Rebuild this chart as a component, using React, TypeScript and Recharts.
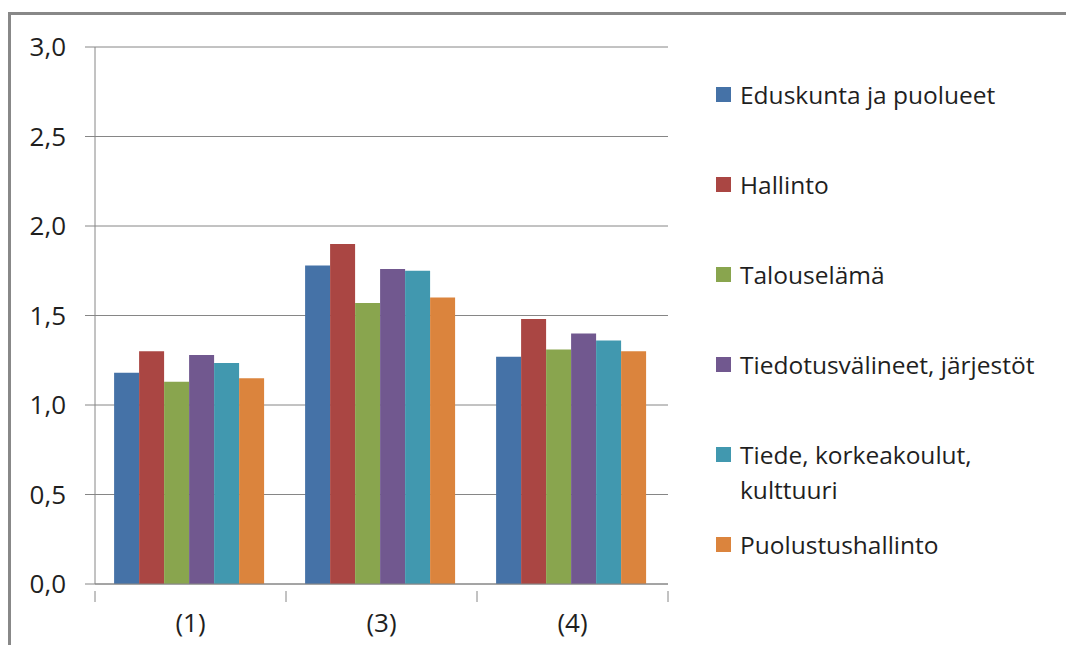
import { BarChart, Bar, XAxis, YAxis, CartesianGrid } from "recharts";

const categories = ["(1)", "(3)", "(4)"];
const seriesNames = [
  "Eduskunta ja puolueet",
  "Hallinto",
  "Talouselämä",
  "Tiedotusvälineet, järjestöt",
  "Tiede, korkeakoulut, kulttuuri",
  "Puolustushallinto",
];
const seriesColors = ["#4572A7", "#AA4643", "#89A54E", "#71588F", "#4198AF", "#DB843D"];
const eduskunta = [1.18, 1.78, 1.27];
const hallinto = [1.3, 1.9, 1.48];
const talous = [1.13, 1.57, 1.31];
const tiedotus = [1.28, 1.76, 1.4];
const tiede = [1.235, 1.75, 1.36];
const puolustus = [1.15, 1.6, 1.3];
const yTicks = [0, 0.5, 1, 1.5, 2, 2.5, 3];

const seriesValues = [eduskunta, hallinto, talous, tiedotus, tiede, puolustus];
const keys = ["s0", "s1", "s2", "s3", "s4", "s5"];

const data = categories.map((cat, i) => {
  const row: Record<string, string | number> = { cat };
  seriesValues.forEach((vals, s) => {
    row[keys[s]] = vals[i];
  });
  return row;
});

const FONT = "'Open Sans', sans-serif";
const AXIS = "#868686";
const TEXT = "#1f1f1f";

const CHART_W = 1074;
const CHART_H = 653;
const PLOT_LEFT = 95;
const PLOT_RIGHT = 668;
const bandWidth = (PLOT_RIGHT - PLOT_LEFT) / categories.length;

interface TickProps {
  x: number;
  y: number;
  index: number;
  payload: { value: string };
}

// category ticks sit on the band edges, labels in the middle
const CategoryTick = ({ x, y, index, payload }: TickProps) => {
  const half = bandWidth / 2;
  return (
    <g>
      <line x1={x - half} x2={x - half} y1={y - 1} y2={y + 10} stroke={AXIS} strokeWidth={1} />
      {index === categories.length - 1 && (
        <line x1={x + half} x2={x + half} y1={y - 1} y2={y + 10} stroke={AXIS} strokeWidth={1} />
      )}
      <text x={x} y={y + 40} textAnchor="middle" fill={TEXT} fontSize={26} fontFamily={FONT}>
        {payload.value}
      </text>
    </g>
  );
};

const ChartLegend = () => (
  <div
    style={{
      position: "absolute",
      left: 716,
      top: 77,
      width: 350,
      fontFamily: FONT,
      color: TEXT,
    }}
  >
    {seriesNames.map((name, i) => (
      <div
        key={name}
        style={{
          position: "absolute",
          left: 0,
          top: 90 * i,
          display: "flex",
          alignItems: "flex-start",
        }}
      >
        <div
          style={{
            width: 15,
            height: 15,
            background: seriesColors[i],
            marginTop: 10,
            marginRight: 9,
            flex: "none",
          }}
        />
        <div style={{ fontSize: 24.5, lineHeight: "35px", width: 320 }}>{name}</div>
      </div>
    ))}
  </div>
);

export default function App() {
  return (
    <div
      style={{
        position: "relative",
        margin: -8,
        width: CHART_W,
        height: CHART_H,
        overflow: "hidden",
        background: "#fff",
      }}
    >
      <div
        style={{
          position: "absolute",
          left: 8,
          top: 12,
          width: 1100,
          height: 700,
          border: "3px solid #888",
          boxSizing: "border-box",
        }}
      />
      <BarChart
        width={CHART_W}
        height={CHART_H}
        data={data}
        margin={{ top: 47, right: CHART_W - PLOT_RIGHT, bottom: 0, left: 0 }}
        barCategoryGap="10%"
        barGap={0}
        style={{ position: "absolute", left: 0, top: 0 }}
      >
        <CartesianGrid vertical={false} stroke={AXIS} strokeWidth={1} />
        <XAxis
          dataKey="cat"
          height={69}
          axisLine={{ stroke: AXIS }}
          tickLine={false}
          tick={(props: TickProps) => <CategoryTick {...props} />}
          interval={0}
        />
        <YAxis
          width={PLOT_LEFT}
          domain={[0, 3]}
          ticks={yTicks}
          axisLine={{ stroke: AXIS }}
          tickLine={{ stroke: AXIS }}
          tickSize={10}
          tickMargin={19}
          tickFormatter={(v: number) => v.toFixed(1).replace(".", ",")}
          tick={{ fill: TEXT, fontSize: 26, fontFamily: FONT }}
        />
        {keys.map((k, i) => (
          <Bar key={k} dataKey={k} name={seriesNames[i]} fill={seriesColors[i]} isAnimationActive={false} />
        ))}
      </BarChart>
      <ChartLegend />
    </div>
  );
}
